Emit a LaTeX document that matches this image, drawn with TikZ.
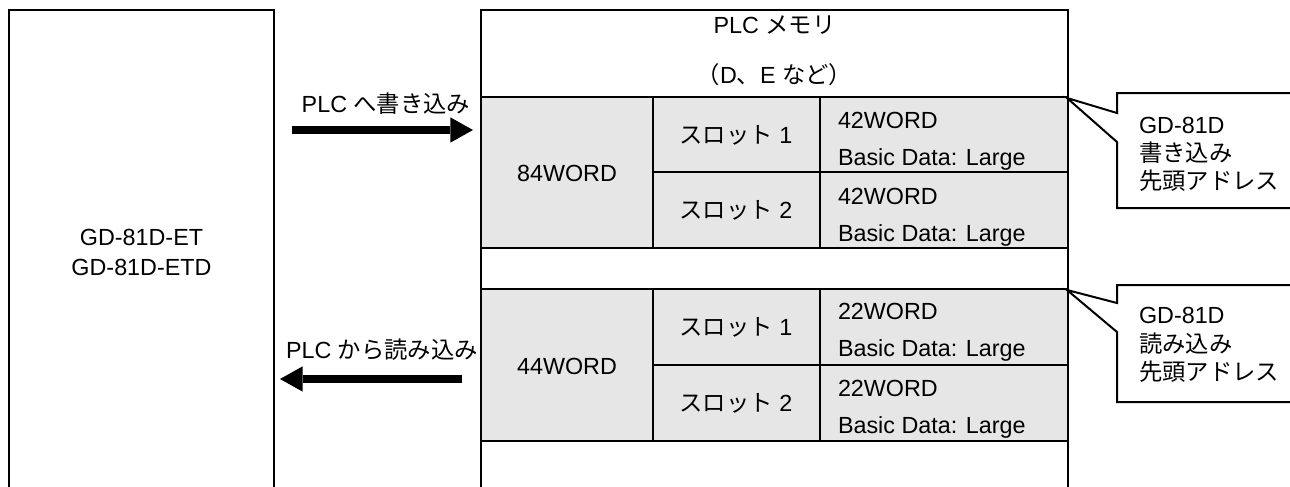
\documentclass[tikz,border=0pt]{standalone}
\usepackage{fontspec}
\setmainfont{Liberation Sans}
\newfontfamily\jp{Noto Sans CJK JP}
\usetikzlibrary{arrows.meta}
\definecolor{cellgray}{HTML}{E6E6E6}
\begin{document}
\begin{tikzpicture}[x=0.75pt,y=-0.75pt,line width=1.5pt,
  every node/.style={font=\fontsize{17.5pt}{21pt}\selectfont,inner sep=0pt},
  txt/.style={anchor=base},
  txtl/.style={anchor=base west},
  bigarrow/.style={line width=6pt,-{Triangle[length=17pt,width=19pt,line width=0pt]}},
  boxline/.style={draw=black,line width=1.5pt}]
\useasboundingbox (0,0) rectangle (1290,486);
\clip (0,0) rectangle (1290,486);
\fill[white] (0,0) rectangle (1290,486);
% left device box
\draw[boxline] (9,500) -- (9,10) -- (274,10) -- (274,500);
\node[txt] (dev1) at (141.5,245) {GD-81D-ET};
\node[txt] (dev2) at (141.5,275) {GD-81D-ETD};
% memory box
\fill[cellgray] (481,97) rectangle (1068,248);
\fill[cellgray] (481,289) rectangle (1068,441);
\draw[boxline] (481,500) -- (481,10) -- (1068,10) -- (1068,500);
\draw[boxline] (481,97) -- (1068,97);
\draw[boxline] (481,248) -- (1068,248);
\draw[boxline] (481,289) -- (1068,289);
\draw[boxline] (481,441) -- (1068,441);
\draw[boxline] (653,97) -- (653,248);
\draw[boxline] (820,97) -- (820,248);
\draw[boxline] (653,172) -- (1068,172);
\draw[boxline] (653,289) -- (653,441);
\draw[boxline] (820,289) -- (820,441);
\draw[boxline] (653,365) -- (1068,365);
\node[txt] (mem1) at (774.5,33) {PLC {\jp メモリ}};
\node[txt] (mem2) at (774.5,83) {{\jp （}D{\jp 、}E {\jp など）}};
% section 1
\node[txt] (w84) at (567,181) {84WORD};
\node[txt] (ws1) at (736,143) {{\jp スロット} 1};
\node[txt] (ws2) at (736,218) {{\jp スロット} 2};
\node[txtl] (wa1) at (837,128) {42WORD};
\node[txtl] (wb1) at (837,165) {Basic Data: Large};
\node[txtl] (wa2) at (837,204) {42WORD};
\node[txtl] (wb2) at (837,241) {Basic Data: Large};
% section 2
\node[txt] (r44) at (567,374) {44WORD};
\node[txt] (rs1) at (736,335) {{\jp スロット} 1};
\node[txt] (rs2) at (736,411) {{\jp スロット} 2};
\node[txtl] (ra1) at (837,319) {22WORD};
\node[txtl] (rb1) at (837,356) {Basic Data: Large};
\node[txtl] (ra2) at (837,396) {22WORD};
\node[txtl] (rb2) at (837,433) {Basic Data: Large};
% arrows
\coordinate (wstart) at (292,130);
\coordinate (wend) at (473,130);
\draw[bigarrow] (wstart) -- (wend);
\node[txt] (wlabel) at (386,112) {PLC {\jp へ書き込み}};
\coordinate (rstart) at (462,379);
\coordinate (rend) at (280,379);
\draw[bigarrow] (rstart) -- (rend);
\node[txt] (rlabel) at (382,358) {PLC {\jp から読み込み}};
% callouts
\coordinate (tip1) at (1067,98);
\draw[boxline,fill=white] (1300,93) -- (1117,93) -- (1117,113) -- (tip1) -- (1117,142) -- (1117,208) -- (1300,208);
\node[txtl] (c1a) at (1138,133) {GD-81D};
\node[txtl] (c1b) at (1138,161) {\jp 書き込み};
\node[txtl] (c1c) at (1138,189) {\jp 先頭アドレス};
\coordinate (tip2) at (1067,290);
\draw[boxline,fill=white] (1300,285) -- (1117,285) -- (1117,303) -- (tip2) -- (1117,332) -- (1117,402) -- (1300,402);
\node[txtl] (c2a) at (1138,323) {GD-81D};
\node[txtl] (c2b) at (1138,352) {\jp 読み込み};
\node[txtl] (c2c) at (1138,380) {\jp 先頭アドレス};
\end{tikzpicture}
\end{document}
